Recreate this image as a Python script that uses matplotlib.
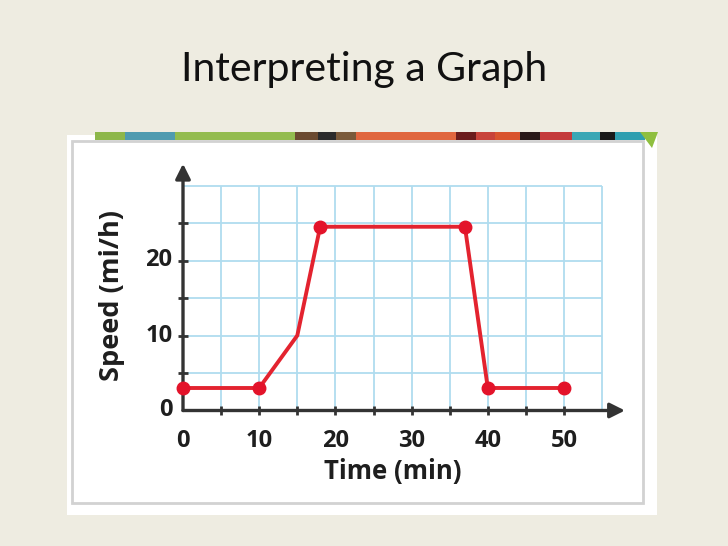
import matplotlib
matplotlib.use("Agg")
import matplotlib.pyplot as plt
from matplotlib.patches import Rectangle, Polygon

# ---- data ----
time_min = [0, 10, 15, 18, 37, 40, 50]
speed_mph = [3, 3, 10, 24.5, 24.5, 3, 3]
marked = [0, 1, 3, 4, 5, 6]          # points drawn with a dot
x_ticks = [0, 10, 20, 30, 40, 50]
y_ticks = [0, 10, 20]
x_minor = [5, 10, 15, 20, 25, 30, 35, 40, 45, 50]
y_minor = [5, 10, 15, 20, 25]
grid_x = [0, 5, 10, 15, 20, 25, 30, 35, 40, 45, 50, 55]
grid_y = [5, 10, 15, 20, 25, 30]
title = "Interpreting a Graph"
xlabel = "Time (min)"
ylabel = "Speed (mi/h)"

W, H = 728, 546
BG = "#eeece1"
fig = plt.figure(figsize=(W / 100, H / 100), dpi=100, facecolor=BG)

def fx(px):
    return px / W

def fy(py):
    return 1 - py / H

# white picture frame
fig.patches.append(Rectangle((fx(67), fy(515)), fx(657) - fx(67), fy(135) - fy(515),
                             transform=fig.transFigure, facecolor="white", edgecolor="none", zorder=0))
fig.patches.append(Rectangle((fx(72), fy(503)), fx(643) - fx(72), fy(141) - fy(503),
                             transform=fig.transFigure, facecolor="white", edgecolor="#d2d2d2",
                             lw=2.0, zorder=0.5))
# decorative coloured strip at the top of the picture
strip = [(95, 125, "#8db74a"), (125, 175, "#4f9bb0"), (175, 295, "#93bc4f"),
         (295, 318, "#6b4a30"), (318, 336, "#2b2b2b"), (336, 356, "#7a5a3a"),
         (356, 456, "#e0663e"), (456, 476, "#6b1c1c"), (476, 495, "#c8433a"),
         (495, 520, "#d9542e"), (520, 540, "#2a1a1a"), (540, 572, "#c43a3a"),
         (572, 600, "#3aa7b5"), (600, 615, "#1a1a1a"), (615, 645, "#2f9fb0")]
for x0, x1, c in strip:
    fig.patches.append(Rectangle((fx(x0), fy(140)), fx(x1) - fx(x0), fy(132) - fy(140),
                                 transform=fig.transFigure, facecolor=c, edgecolor="none", zorder=1))
fig.patches.append(Polygon([(fx(640), fy(132)), (fx(658), fy(132)), (fx(652), fy(148))],
                           closed=True, transform=fig.transFigure, facecolor="#8fbf3f",
                           edgecolor="none", zorder=1))

# title
fig.text(0.5, fy(70), title, ha="center", va="center", fontsize=29.5,
         family=["Lato", "DejaVu Sans"], color="#111111")

# axes placed so that data coordinates match the picture
L, R, T, B = 150, 640, 150, 420
x_px0, x_scale = 183, 7.62
y_px0, y_scale = 410.5, 7.5
ax = fig.add_axes([fx(L), fy(B), fx(R) - fx(L), fy(T) - fy(B)])
ax.set_zorder(3)
ax.set_xlim((L - x_px0) / x_scale, (R - x_px0) / x_scale)
ax.set_ylim((y_px0 - B) / y_scale, (y_px0 - T) / y_scale)
ax.patch.set_alpha(0)
for s in ax.spines.values():
    s.set_visible(False)
ax.set_xticks([])
ax.set_yticks([])

# grid
gcol = "#b0dcef"
ax.vlines(grid_x, 0, 30, colors=gcol, lw=1.3, zorder=1)
ax.hlines(grid_y, 0, 55, colors=gcol, lw=1.3, zorder=1)

# axes with arrows
acol = "#333333"
ax.annotate("", xy=(58.0, 0), xytext=(0, 0),
            arrowprops=dict(arrowstyle="-|>,head_length=0.9,head_width=0.45",
                            color=acol, lw=2.4, shrinkA=0, shrinkB=0), zorder=3)
ax.annotate("", xy=(0, 32.9), xytext=(0, 0),
            arrowprops=dict(arrowstyle="-|>,head_length=0.9,head_width=0.45",
                            color=acol, lw=2.4, shrinkA=0, shrinkB=0), zorder=3)
ax.vlines(x_minor, -0.65, 0.65, colors=acol, lw=2.0, zorder=3)
ax.hlines(y_minor, -0.7, 0.7, colors=acol, lw=2.0, zorder=3)

# data line
ax.plot(time_min, speed_mph, color="#e3232f", lw=2.8, zorder=4, solid_joinstyle="round")
ax.plot([time_min[i] for i in marked], [speed_mph[i] for i in marked], "o",
        color="#e3132a", ms=9, zorder=5)

# tick labels
tfont = dict(family=["Open Sans", "DejaVu Sans"], fontweight="bold", color="#1e1e1e")
for v in x_ticks:
    ax.text(v, -4.1, str(v), ha="center", va="center", fontsize=17, **tfont)
for v in y_ticks:
    ax.text(-1.4, v, str(v), ha="right", va="center", fontsize=17, **tfont)

ax.text(27.5, -8.1, xlabel, ha="center", va="center", fontsize=18.5, **tfont)
ax.text(-9.3, 15.3, ylabel, ha="center", va="center", rotation=90, fontsize=19.5, **tfont)

fig.savefig("out.png", dpi=100, facecolor=BG)
